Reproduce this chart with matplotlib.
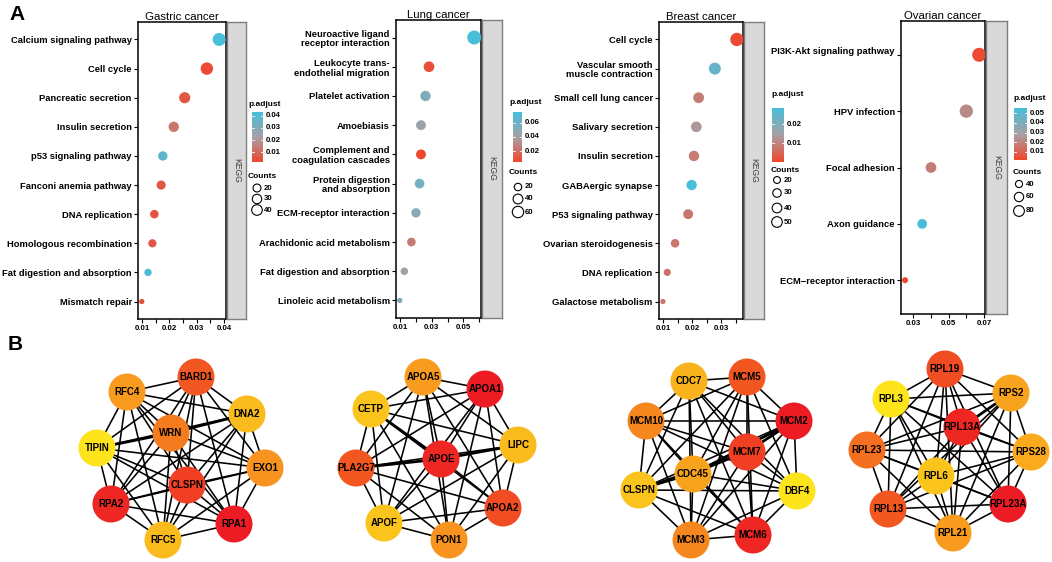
import itertools
import matplotlib
matplotlib.use("Agg")
import matplotlib.pyplot as plt
import numpy as np
from matplotlib.colors import LinearSegmentedColormap
from matplotlib.patches import Circle

plt.rcParams['font.family'] = ['Liberation Sans', 'DejaVu Sans']
plt.rcParams['font.weight'] = 'bold'

W, H, DPI = 1052, 562, 100

# ---------------- panel A data ----------------
gastric_terms = ['Calcium signaling pathway', 'Cell cycle', 'Pancreatic secretion',
                 'Insulin secretion', 'p53 signaling pathway', 'Fanconi anemia pathway',
                 'DNA replication', 'Homologous recombination',
                 'Fat digestion and absorption', 'Mismatch repair']
gastric_ratio = [0.0382, 0.0337, 0.0256, 0.0216, 0.0176, 0.0170, 0.0145, 0.0138, 0.0122, 0.0099]
gastric_count = [38, 34, 26, 22, 18, 17, 15, 14, 12, 10]
gastric_padj = [0.043, 0.003, 0.006, 0.013, 0.038, 0.006, 0.005, 0.006, 0.042, 0.004]

lung_terms = ['Neuroactive ligand\nreceptor interaction', 'Leukocyte trans-\nendothelial migration',
              'Platelet activation', 'Amoebiasis', 'Complement and\ncoagulation cascades',
              'Protein digestion\nand absorption', 'ECM-receptor interaction',
              'Arachidonic acid metabolism', 'Fat digestion and absorption',
              'Linoleic acid metabolism']
lung_ratio = [0.0570, 0.0282, 0.0260, 0.0231, 0.0231, 0.0222, 0.0199, 0.0170, 0.0125, 0.0096]
lung_count = [57, 28, 26, 23, 23, 22, 20, 17, 13, 10]
lung_padj = [0.075, 0.008, 0.055, 0.045, 0.005, 0.060, 0.052, 0.025, 0.040, 0.055]

breast_terms = ['Cell cycle', 'Vascular smooth\nmuscle contraction', 'Small cell lung cancer',
                'Salivary secretion', 'Insulin secretion', 'GABAergic synapse',
                'P53 signaling pathway', 'Ovarian steroidogenesis', 'DNA replication',
                'Galactose metabolism']
breast_ratio = [0.0354, 0.0278, 0.0222, 0.0214, 0.0206, 0.0198, 0.0186, 0.0141, 0.0114, 0.0099]
breast_count = [50, 39, 31, 30, 29, 28, 26, 20, 16, 14]
breast_padj = [0.001, 0.024, 0.009, 0.013, 0.009, 0.028, 0.008, 0.008, 0.007, 0.008]

ovarian_terms = ['PI3K-Akt signaling pathway\n', 'HPV infection', 'Focal adhesion',
                 'Axon guidance', 'ECM\u2212receptor interaction']
ovarian_ratio = [0.0673, 0.0600, 0.0400, 0.0350, 0.0253]
ovarian_count = [87, 78, 52, 45, 33]
ovarian_padj = [0.003, 0.022, 0.018, 0.055, 0.002]

# legend values
gastric_cbar_ticks = [0.01, 0.02, 0.03, 0.04]
lung_cbar_ticks = [0.02, 0.04, 0.06]
breast_cbar_ticks = [0.01, 0.02]
ovarian_cbar_ticks = [0.01, 0.02, 0.03, 0.04, 0.05]
gastric_size_keys = [20, 30, 40]
lung_size_keys = [20, 40, 60]
breast_size_keys = [20, 30, 40, 50]
ovarian_size_keys = [40, 60, 80]

# ---------------- panel B data ----------------
net1_genes = ['BARD1', 'RFC4', 'DNA2', 'TIPIN', 'WRN', 'EXO1', 'CLSPN', 'RPA2', 'RPA1', 'RFC5']
net1_x = [196, 127, 247, 97, 171, 265, 187, 111, 234, 163]
net1_y = [377, 392, 414, 448, 433, 468, 485, 504, 524, 540]
net1_score = [0.75, 0.45, 0.25, 0.0, 0.6, 0.5, 0.85, 0.95, 1.0, 0.25]
net1_thick = [('WRN', 'DNA2'), ('WRN', 'TIPIN')]

net2_genes = ['APOA5', 'APOA1', 'CETP', 'LIPC', 'APOE', 'PLA2G7', 'APOA2', 'APOF', 'PON1']
net2_x = [423, 485, 371, 518, 441, 356, 503, 384, 449]
net2_y = [377, 389, 409, 445, 459, 468, 508, 523, 540]
net2_score = [0.45, 1.0, 0.2, 0.25, 0.95, 0.75, 0.8, 0.2, 0.5]
net2_thick = [('APOE', 'LIPC'), ('APOE', 'PLA2G7'), ('CETP', 'APOE')]

net3_genes = ['CDC7', 'MCM5', 'MCM2', 'MCM10', 'MCM7', 'CDC45', 'CLSPN', 'DBF4', 'MCM3', 'MCM6']
net3_x = [689, 747, 794, 646, 747, 693, 639, 797, 691, 753]
net3_y = [381, 377, 421, 421, 452, 474, 490, 491, 540, 535]
net3_score = [0.3, 0.75, 1.0, 0.55, 0.85, 0.4, 0.2, 0.0, 0.55, 0.95]
net3_thick = [('CLSPN', 'MCM7'), ('MCM2', 'MCM7'), ('CDC45', 'MCM2')]

net4_genes = ['RPL19', 'RPS2', 'RPL3', 'RPL13A', 'RPL23', 'RPS28', 'RPL6', 'RPL23A', 'RPL13', 'RPL21']
net4_x = [945, 1011, 891, 962, 867, 1031, 936, 1008, 888, 953]
net4_y = [369, 393, 399, 427, 450, 452, 476, 504, 509, 533]
net4_score = [0.8, 0.4, 0.0, 0.95, 0.65, 0.35, 0.2, 1.0, 0.75, 0.45]
net4_thick = [('RPS2', 'RPL13A')]

padj_cmap = LinearSegmentedColormap.from_list('padj', ['#F0452C', '#A89FA4', '#47BED9'])
node_cmap = LinearSegmentedColormap.from_list('node', ['#FDE41B', '#F7931E', '#ED1C24'])

fig = plt.figure(figsize=(W / DPI, H / DPI), dpi=DPI)
overlay = fig.add_axes([0, 0, 1, 1])
overlay.set_xlim(0, W)
overlay.set_ylim(H, 0)
overlay.axis('off')


def px_rect(x0, y0, x1, y1):
    return [x0 / W, 1 - y1 / H, (x1 - x0) / W, (y1 - y0) / H]


def dot_diam(counts, cmin, cmax, dmin, dmax):
    c = np.clip((np.asarray(counts, float) - cmin) / (cmax - cmin), 0, None)
    return dmin + (dmax - dmin) * np.sqrt(c)


def draw_dotplot(box, strip_w, title, terms, ratio, counts, padj, xlim, xticks, xlabels,
                 crange, drange, cbar_box, cbar_ticks, size_keys, legend_x, title_y, counts_y, key_y):
    x0, y0, x1, y1 = box
    ax = fig.add_axes(px_rect(x0, y0, x1, y1))
    n = len(terms)
    ypos = np.arange(n)
    cmin, cmax = min(counts), max(counts)
    d = dot_diam(counts, cmin, cmax, *drange)
    ax.scatter(ratio, ypos, s=(d * 72 / DPI) ** 2, c=padj, cmap=padj_cmap,
               vmin=crange[0], vmax=crange[1], edgecolors='none', zorder=3)
    ax.set_xlim(*xlim)
    ax.set_ylim(n - 0.4, -0.6)
    ax.set_yticks(ypos)
    ax.set_yticklabels(terms, fontsize=6.75, multialignment='right', linespacing=1.12)
    ax.set_xticks(xticks)
    ax.set_xticklabels(xlabels, fontsize=5.7)
    ax.tick_params(length=3, width=0.8, pad=1.5, color='black')
    for s in ax.spines.values():
        s.set_linewidth(1.1)
    ax.set_title(title, fontsize=8.2, pad=1.5)

    # facet strip
    sx = fig.add_axes(px_rect(x1 + 1, y0, x1 + 1 + strip_w, y1))
    sx.set_facecolor('#D9D9D9')
    sx.set_xticks([])
    sx.set_yticks([])
    for s in sx.spines.values():
        s.set_color('#7F7F7F')
        s.set_linewidth(1.0)
    sx.text(0.5, 0.5, 'KEGG', rotation=-90, ha='center', va='center', fontsize=6.2,
            fontweight='normal', color='#404040', transform=sx.transAxes)

    # colour legend
    lx = legend_x
    overlay.text(lx, title_y, 'p.adjust', fontsize=6.0, ha='left', va='center')
    bx0, by0, bx1, by1 = cbar_box
    levels = np.linspace(crange[1], crange[0], 101)
    yy_edges = np.linspace(by0, by1, 101)
    overlay.pcolormesh([bx0, bx1], yy_edges, levels[:-1].reshape(-1, 1), cmap=padj_cmap,
                       vmin=crange[0], vmax=crange[1], shading='flat', edgecolors='none')
    for t in cbar_ticks:
        ty = by0 + (crange[1] - t) / (crange[1] - crange[0]) * (by1 - by0)
        overlay.plot([bx0, bx0 + 1.8], [ty, ty], color='white', lw=0.6)
        overlay.plot([bx1 - 1.8, bx1], [ty, ty], color='white', lw=0.6)
        overlay.text(bx1 + 3, ty, f'{t:.2f}', fontsize=5.6, ha='left', va='center')

    # size legend
    overlay.text(lx, counts_y, 'Counts', fontsize=6.0, ha='left', va='center')
    kd = 0.8 * dot_diam(size_keys, cmin, cmax, *drange)
    cx = bx0 + 5
    overlay.scatter([cx] * len(size_keys), key_y, s=(kd * 72 / DPI) ** 2, facecolors='none',
                    edgecolors='black', linewidths=0.8)
    for k, yy in zip(size_keys, key_y):
        overlay.text(cx + 6.5, yy, str(k), fontsize=5.6, ha='left', va='center')


draw_dotplot((138, 22, 226, 319), 19, 'Gastric cancer', gastric_terms, gastric_ratio,
             gastric_count, gastric_padj, (0.00853, 0.0407),
             [0.01, 0.015, 0.02, 0.025, 0.03, 0.035, 0.04], ['0.01', '', '0.02', '', '0.03', '', '0.04'],
             (0.0017, 0.0433), (5.3, 13.0), (252, 112, 263, 162), gastric_cbar_ticks,
             gastric_size_keys, 248, 104, 177, [188, 199, 210])

draw_dotplot((396, 20, 481, 318), 20, 'Lung cancer', lung_terms, lung_ratio,
             lung_count, lung_padj, (0.0072, 0.0613),
             [0.01, 0.02, 0.03, 0.04, 0.05, 0.06], ['0.01', '', '0.03', '', '0.05', ''],
             (0.0043, 0.0757), (5.3, 14.0), (513, 112, 522, 162), lung_cbar_ticks,
             lung_size_keys, 509, 103, 173, [187, 199, 212])

draw_dotplot((659, 22, 743, 319), 20, 'Breast cancer', breast_terms, breast_ratio,
             breast_count, breast_padj, (0.00855, 0.0375),
             [0.01, 0.015, 0.02, 0.025, 0.03, 0.035], ['0.01', '', '0.02', '', '0.03', ''],
             (0.0003, 0.0285), (5.3, 13.3), (772, 108, 784, 162), breast_cbar_ticks,
             breast_size_keys, 771, 95, 170, [180, 193, 208, 222])

draw_dotplot((901, 21, 985, 314), 21, 'Ovarian cancer', ovarian_terms, ovarian_ratio,
             ovarian_count, ovarian_padj, (0.0230, 0.0706),
             [0.03, 0.04, 0.05, 0.06, 0.07], ['0.03', '', '0.05', '', '0.07'],
             (0.0014, 0.0555), (6.0, 14.0), (1014, 108, 1027, 160), ovarian_cbar_ticks,
             ovarian_size_keys, 1013, 98, 173, [184, 197, 211])


# ---------------- panel B: networks ----------------
def draw_network(genes, xs, ys, scores, thick):
    pos = {g: (x, y) for g, x, y in zip(genes, xs, ys)}
    thick_set = {frozenset(p) for p in thick}
    for a, b in itertools.combinations(genes, 2):
        lw = 2.0 if frozenset((a, b)) in thick_set else 1.15
        overlay.plot([pos[a][0], pos[b][0]], [pos[a][1], pos[b][1]], color='black', lw=lw, zorder=2)
    for g, x, y, sc in zip(genes, xs, ys, scores):
        overlay.add_patch(Circle((x, y), 18.5, facecolor=node_cmap(sc), edgecolor='none', zorder=3))
        overlay.text(x, y, g, fontsize=7.0, ha='center', va='center', color='black', zorder=4)


draw_network(net1_genes, net1_x, net1_y, net1_score, net1_thick)
draw_network(net2_genes, net2_x, net2_y, net2_score, net2_thick)
draw_network(net3_genes, net3_x, net3_y, net3_score, net3_thick)
draw_network(net4_genes, net4_x, net4_y, net4_score, net4_thick)

overlay.set_xlim(0, W)
overlay.set_ylim(H, 0)

fig.text(9 / W, 1 - 14 / H, 'A', fontsize=15, ha='left', va='center')
fig.text(8 / W, 1 - 345 / H, 'B', fontsize=15, ha='left', va='center')

fig.savefig('out.png', dpi=DPI)
